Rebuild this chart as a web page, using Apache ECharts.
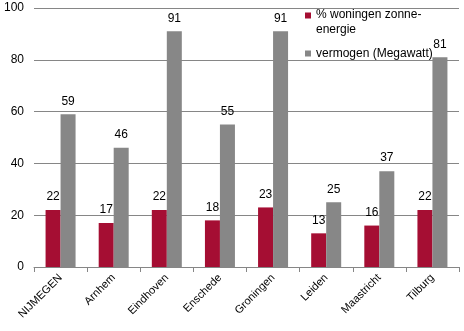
<!DOCTYPE html>
<html>
<head>
<meta charset="utf-8">
<script src="https://cdn.jsdelivr.net/npm/echarts@6/dist/echarts.min.js"></script>
<style>
  html, body { margin: 0; padding: 0; background: #fff; }
  #chart { width: 464px; height: 331px; }
</style>
</head>
<body>
<div id="chart"></div>
<script>
// Cities and their figures
const cities = ['NIJMEGEN', 'Arnhem', 'Eindhoven', 'Enschede', 'Groningen', 'Leiden', 'Maastricht', 'Tilburg'];
const solarHomesPct = [22, 17, 22, 18, 23, 13, 16, 22];
const capacityMW = [59, 46, 91, 55, 91, 25, 37, 81];
const yTicks = [0, 20, 40, 60, 80, 100];

const seriesNames = ['% woningen zonne-energie', 'vermogen (Megawatt)'];
const font = 'Liberation Sans, Arial, sans-serif';

const chart = echarts.init(document.getElementById('chart'), null, { renderer: 'canvas' });

const labelStyle = {
  show: true,
  position: 'top',
  distance: 7,
  color: '#000',
  fontFamily: font,
  fontSize: 12
};

const legendText = { fontFamily: font, fontSize: 12, color: '#000', lineHeight: 15 };

// Square marker sitting at the top of a tall icon box, so it lines up
// with the first line of a wrapped legend label (the tiny dot fixes the box height).
const topSquareIcon = 'path://M0,0h7v7h-7z M0,22h0.01v0.01h-0.01z';

chart.setOption({
  animation: false,
  textStyle: { fontFamily: font },
  grid: { left: 34, right: 5, top: 8, bottom: 64, containLabel: false },
  legend: [
    {
      orient: 'vertical',
      left: 300,
      top: 2,
      itemWidth: 6,
      itemHeight: 22,
      icon: topSquareIcon,
      textStyle: legendText,
      formatter: function () { return '% woningen zonne-\nenergie'; },
      data: [seriesNames[0]]
    },
    {
      orient: 'vertical',
      left: 300,
      top: 41,
      itemWidth: 6,
      itemHeight: 6,
      icon: 'rect',
      textStyle: legendText,
      data: [seriesNames[1]]
    }
  ],
  xAxis: {
    type: 'category',
    data: cities,
    axisLine: { show: true, lineStyle: { color: '#868686', width: 1 } },
    axisTick: { show: true, alignWithLabel: false, length: 5, lineStyle: { color: '#868686' } },
    axisLabel: {
      interval: 0,
      rotate: 45,
      margin: 9,
      color: '#000',
      fontFamily: font,
      fontSize: 11
    }
  },
  yAxis: {
    type: 'value',
    min: yTicks[0],
    max: yTicks[yTicks.length - 1],
    interval: 20,
    axisLine: { show: false },
    axisTick: { show: false },
    splitLine: { lineStyle: { color: '#868686', width: 1 } },
    axisLabel: { color: '#000', fontFamily: font, fontSize: 12, margin: 10 }
  },
  series: [
    {
      name: seriesNames[0],
      type: 'bar',
      data: solarHomesPct,
      barWidth: 15,
      barGap: '0%',
      itemStyle: { color: '#A50E33' },
      label: labelStyle
    },
    {
      name: seriesNames[1],
      type: 'bar',
      data: capacityMW,
      barWidth: 15,
      barGap: '0%',
      itemStyle: { color: '#878787' },
      label: labelStyle
    }
  ]
});
</script>
</body>
</html>
